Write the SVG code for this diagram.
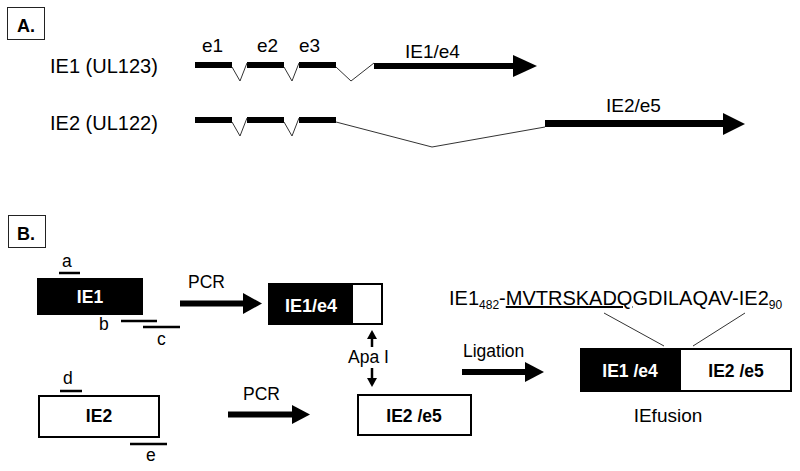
<svg xmlns="http://www.w3.org/2000/svg" width="800" height="471" viewBox="0 0 800 471">
<style>
text{font-family:"Liberation Sans",Arial,sans-serif;fill:#000}
.lab{font-size:20px}
.ex{font-size:19px}
.sm{font-size:17.5px}
.b{font-weight:bold;font-size:17.5px}
.w{fill:#fff}
.intr{fill:none;stroke:#333;stroke-width:1}
.box{fill:#fff;stroke:#000;stroke-width:2}
.blk{fill:#000;stroke:#000;stroke-width:2}
.pr{stroke:#000;stroke-width:2.5}
.frame{fill:#fff;stroke:#222;stroke-width:1}
</style>
<rect width="800" height="471" fill="#fff"/>

<!-- Panel A -->
<g id="labelA"><rect class="frame" x="7.5" y="7.5" width="37" height="32"/><text x="17" y="32" style="font-weight:bold;font-size:18px">A.</text></g>

<g id="IE1gene">
<text class="lab" x="50" y="73">IE1 (UL123)</text>
<text class="ex" x="202" y="52">e1</text>
<text class="ex" x="257" y="52">e2</text>
<text class="ex" x="299" y="52">e3</text>
<text class="ex" x="405" y="58">IE1/e4</text>
<rect x="195" y="62" width="37" height="6"/>
<rect x="247" y="62" width="37" height="6"/>
<rect x="299" y="62" width="37" height="6"/>
<polyline class="intr" points="232,67 240,81 247,63"/>
<polyline class="intr" points="284,67 292,81 299,63"/>
<polyline class="intr" points="336,67 351,81 374,63"/>
<rect x="374" y="63" width="140" height="6"/>
<polygon points="513,55 537,66 513,77"/>
</g>

<g id="IE2gene">
<text class="lab" x="50" y="130">IE2 (UL122)</text>
<text class="ex" x="606" y="112">IE2/e5</text>
<rect x="195" y="117" width="37" height="6"/>
<rect x="247" y="117" width="37" height="6"/>
<rect x="299" y="117" width="37" height="6"/>
<polyline class="intr" points="232,122 240,136 247,118"/>
<polyline class="intr" points="284,122 292,136 299,118"/>
<polyline class="intr" points="336,122 432,147 545,127"/>
<rect x="545" y="120" width="179" height="7"/>
<polygon points="723,113 745,124 723,135"/>
</g>

<!-- Panel B -->
<g id="labelB"><rect class="frame" x="8.5" y="215.5" width="37" height="32"/><text x="17" y="240" style="font-weight:bold;font-size:18px">B.</text></g>

<g id="IE1">
<rect x="37" y="278" width="106" height="37" fill="#000"/>
<text class="b w" x="90" y="303" text-anchor="middle">IE1</text>
<line class="pr" x1="59" y1="273" x2="80" y2="273"/>
<text class="sm" x="62" y="267">a</text>
<line class="pr" x1="121" y1="321" x2="157" y2="321"/>
<text class="sm" x="99" y="330">b</text>
<line class="pr" x1="143" y1="327" x2="180" y2="327"/>
<text class="sm" x="157" y="345">c</text>
</g>

<g id="IE2">
<rect class="box" x="39" y="396" width="120" height="41"/>
<text class="b" x="99" y="422" text-anchor="middle">IE2</text>
<line class="pr" x1="60" y1="391" x2="82" y2="391"/>
<text class="sm" x="63" y="384">d</text>
<line class="pr" x1="130" y1="444" x2="167" y2="444"/>
<text class="sm" x="146" y="461">e</text>
</g>

<g id="IE1e4">
<rect class="box" x="269" y="284" width="113" height="40"/>
<rect class="blk" x="269" y="284" width="83" height="40"/>
<text class="b w" x="311" y="312" text-anchor="middle" style="font-size:18px">IE1/e4</text>
</g>

<g id="IE2e5">
<rect class="box" x="358" y="395" width="113" height="40"/>
<text class="b" x="414" y="422" text-anchor="middle">IE2 /e5</text>
</g>

<g id="IEfusion">
<rect class="box" x="581" y="349" width="210" height="42"/>
<rect class="blk" x="581" y="349" width="99" height="42"/>
<text class="b w" x="630" y="377" text-anchor="middle">IE1 /e4</text>
<text class="b" x="736" y="377" text-anchor="middle">IE2 /e5</text>
<text x="668" y="422" text-anchor="middle" style="font-size:19px">IEfusion</text>
<text x="449" y="305" style="font-size:20px">IE1<tspan dy="4" style="font-size:12px">482</tspan><tspan dy="-4">-</tspan><tspan text-decoration="underline">MVTRSKADQ</tspan>GDILAQAV-IE2<tspan dy="4" style="font-size:12px">90</tspan></text>
</g>

<g id="connectors">
<line x1="180" y1="303.5" x2="244" y2="303.5" stroke="#000" stroke-width="6"/>
<polygon points="243,293 262,303.5 243,314"/>
<text class="sm" x="188" y="288">PCR</text>
<line x1="228" y1="414.5" x2="293" y2="414.5" stroke="#000" stroke-width="6"/>
<polygon points="292,405 310,414.5 292,424"/>
<text class="sm" x="243" y="400">PCR</text>
<line x1="462" y1="372" x2="526" y2="372" stroke="#000" stroke-width="6"/>
<polygon points="525,362 544,372 525,382"/>
<text class="sm" x="463" y="357">Ligation</text>
<line x1="372" y1="337" x2="372" y2="347" stroke="#000" stroke-width="2.5"/>
<polygon points="367,339 372,330 377,339"/>
<text class="sm" x="348" y="363">Apa I</text>
<line x1="372" y1="368" x2="372" y2="380" stroke="#000" stroke-width="2.5"/>
<polygon points="367,378 372,387 377,378"/>
<line class="intr" x1="604" y1="313" x2="664" y2="346"/>
<line class="intr" x1="745" y1="313" x2="693" y2="346"/>
</g>
</svg>
